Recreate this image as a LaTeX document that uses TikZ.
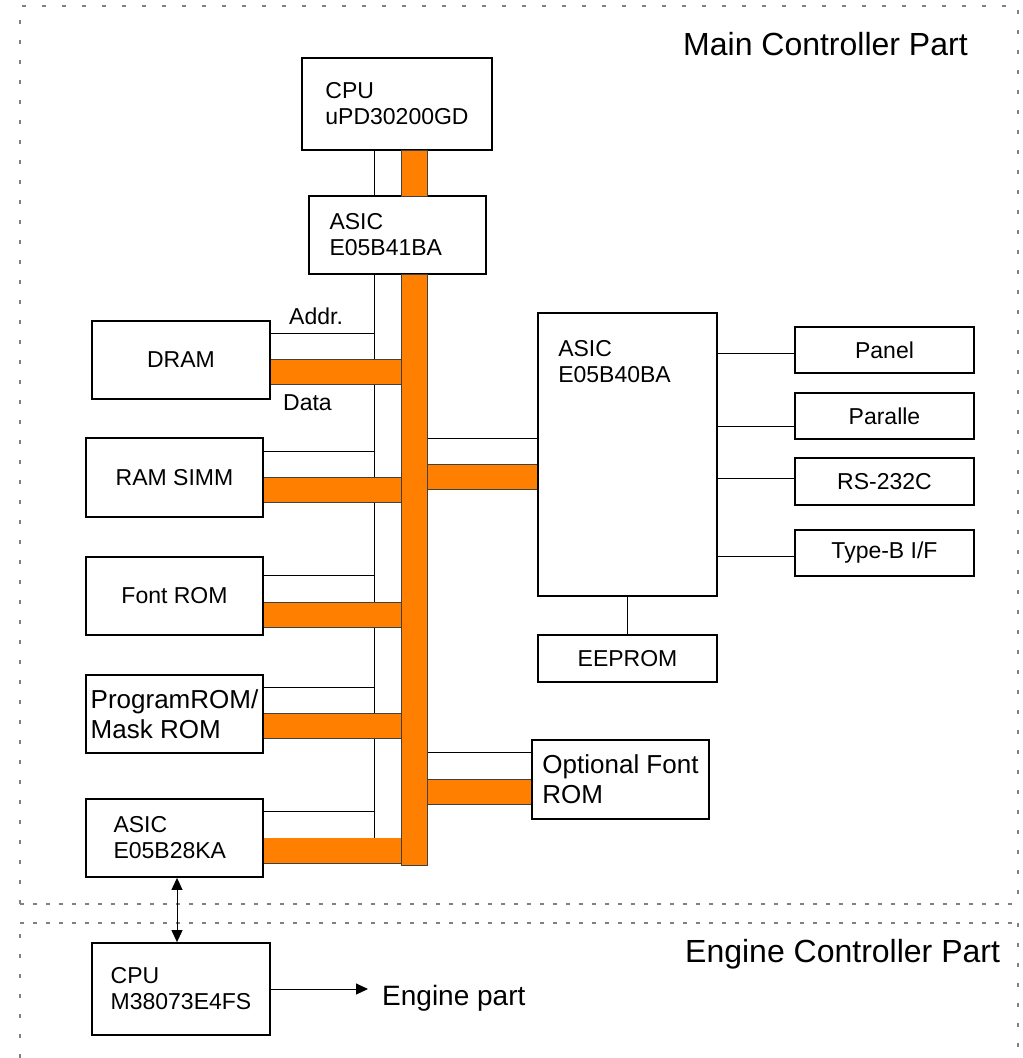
\documentclass[tikz,border=0pt]{standalone}
\usepackage{fontspec}
\setmainfont{Liberation Sans}
\usetikzlibrary{arrows.meta,backgrounds}
\definecolor{busorange}{HTML}{FF8000}
\definecolor{rim}{HTML}{404040}
\definecolor{frameg}{HTML}{808080}
\newcommand{\boxfont}{\fontsize{23}{26}\selectfont}
\newcommand{\bigboxfont}{\fontsize{26}{30}\selectfont}
\newcommand{\partfont}{\fontsize{32}{38}\selectfont}

\begin{document}
\begin{tikzpicture}[x=1pt,y=-1pt,blk/.style={draw,line width=1.8pt,inner sep=0pt,align=left,font=\boxfont},lbl/.style={inner sep=0pt,align=left,font=\boxfont},wire/.style={line width=1pt},databus/.style={draw=rim,line width=0.8pt,double=busorange,double distance=24.4pt},busbox/.style={draw=rim,line width=0.8pt,fill=busorange,minimum width=26pt,inner sep=0pt},arr/.style={line width=1pt,-{Triangle[length=12pt,width=11pt]}},dblarr/.style={line width=1pt,{Triangle[length=12pt,width=11pt]}-{Triangle[length=12pt,width=11pt]}},partframe/.style={frameg,line width=1.5pt,dash pattern=on 4pt off 16pt},partsplit/.style={frameg,line width=1.5pt,dash pattern=on 4pt off 9pt}]
 \useasboundingbox (0,0) rectangle (1023,1058);
 \draw[partframe] (20,904)--(20,6)--(1018,6)--(1018,904);
 \draw[partsplit] (20,904)--(1018,904);
 \draw[partsplit] (20,923)--(1018,923);
 \draw[partframe] (20,1058)--(20,923);
 \draw[partframe] (1018,923)--(1018,1058);
 \node[anchor=base west,inner sep=0pt,font=\partfont] (maintitle) at (683,55) {Main Controller Part};
 \node[anchor=base west,inner sep=0pt,font=\partfont] (enginetitle) at (685,962) {Engine Controller Part};
 \node[blk,minimum width=190pt,minimum height=92pt] (cpuA) at (397,104) {CPU\\uPD30200GD};
 \node[blk,minimum width=177pt,minimum height=78pt,text width=136pt] (asicA) at (397.5,235) {ASIC\\E05B41BA};
 \node[blk,minimum width=178pt,minimum height=78pt] (dram) at (181,360) {DRAM};
 \node[blk,minimum width=177pt,minimum height=79pt] (simm) at (174.5,477.5) {RAM SIMM};
 \node[blk,minimum width=177pt,minimum height=78pt] (fontrom) at (174.5,596) {Font ROM};
 \node[blk,minimum width=177pt,minimum height=78pt,font=\bigboxfont] (progrom) at (174.5,714) {ProgramROM/\\Mask ROM};
 \node[blk,minimum width=177pt,minimum height=78pt,text width=122pt] (asicC) at (174.5,838) {ASIC\\E05B28KA};
 \node[blk,minimum width=179pt,minimum height=283pt] (asicB) at (627.5,454.5) {};
 \node[lbl,anchor=north west] (asicBtext) at ([xshift=21pt,yshift=-28pt]asicB.north west) {ASIC\\E05B40BA};
 \node[blk,minimum width=179pt,minimum height=46pt] (panel) at (884.5,350) {Panel};
 \node[blk,minimum width=179pt,minimum height=46pt] (para) at (884.5,416) {Paralle};
 \node[blk,minimum width=179pt,minimum height=47pt] (rs) at (884.5,481.5) {RS-232C};
 \node[blk,minimum width=179pt,minimum height=46pt] (typeb) at (884.5,553) {Type-B I/F};
 \node[blk,minimum width=179pt,minimum height=47pt] (eeprom) at (627.5,658.5) {EEPROM};
 \node[blk,minimum width=177pt,minimum height=79pt,font=\bigboxfont] (optrom) at (620.5,779.5) {Optional Font\\ROM};
 \node[blk,minimum width=178pt,minimum height=92pt] (cpuB) at (181,989) {CPU\\M38073E4FS};
 \node[lbl,anchor=base west] (addrlbl) at (289,324) {Addr.};
 \node[lbl,anchor=base west] (datalbl) at (283,410) {Data};
 \node[lbl,anchor=base west,font=\fontsize{28}{32}\selectfont] (enginepart) at (382,1005) {Engine part};
 \node[busbox,minimum height=46pt] (busup) at (414,173) {};
 \node[busbox,minimum height=591pt] (bus) at (414,569.5) {};
 \coordinate (abus) at (374,852);
 \begin{scope}[on background layer]
  \draw[wire] (abus |- cpuA.south)--(abus |- asicA.north);
  \draw[wire] (abus |- asicA.south)--(abus);
  \draw[wire] ([yshift=-13pt]dram.north east)--([yshift=-13pt]dram.north east -| abus);
  \draw[wire] ([yshift=-14pt]simm.north east)--([yshift=-14pt]simm.north east -| abus);
  \draw[wire] ([yshift=-19pt]fontrom.north east)--([yshift=-19pt]fontrom.north east -| abus);
  \draw[wire] ([yshift=-13pt]progrom.north east)--([yshift=-13pt]progrom.north east -| abus);
  \draw[wire] ([yshift=-13pt]asicC.north east)--([yshift=-13pt]asicC.north east -| abus);
  \draw[databus] ([yshift=-52pt]dram.north east)--([yshift=-52pt]dram.north east -| bus.west);
  \draw[databus] ([yshift=-53pt]simm.north east)--([yshift=-53pt]simm.north east -| bus.west);
  \draw[databus] ([yshift=-59pt]fontrom.north east)--([yshift=-59pt]fontrom.north east -| bus.west);
  \draw[databus] ([yshift=-52pt]progrom.north east)--([yshift=-52pt]progrom.north east -| bus.west);
  \draw[databus] ([yshift=-52.5pt]asicC.north east)--([yshift=-52.5pt]asicC.north east -| bus.west);
  \draw[wire] ([yshift=-126pt]asicB.north west)--([yshift=-126pt]asicB.north west -| bus.east);
  \draw[databus] ([yshift=-165pt]asicB.north west)--([yshift=-165pt]asicB.north west -| bus.east);
  \draw[wire] ([yshift=-13pt]optrom.north west)--([yshift=-13pt]optrom.north west -| bus.east);
  \draw[databus] ([yshift=-53pt]optrom.north west)--([yshift=-53pt]optrom.north west -| bus.east);
 \end{scope}
 \draw[wire] ([yshift=-3pt]panel.west)--([yshift=-3pt]panel.west -| asicB.east);
 \draw[wire] ([yshift=-10pt]para.west)--([yshift=-10pt]para.west -| asicB.east);
 \draw[wire] ([yshift=3.5pt]rs.west)--([yshift=3.5pt]rs.west -| asicB.east);
 \draw[wire] ([yshift=-3pt]typeb.west)--([yshift=-3pt]typeb.west -| asicB.east);
 \draw[wire] (eeprom.north)--(eeprom.north |- asicB.south);
 \draw[dblarr] ([xshift=-4pt]cpuB.north)--([xshift=-4pt]cpuB.north |- asicC.south);
 \draw[arr,shorten >=14pt] (cpuB.east)--(cpuB.east -| enginepart.west);
\end{tikzpicture}
\end{document}
